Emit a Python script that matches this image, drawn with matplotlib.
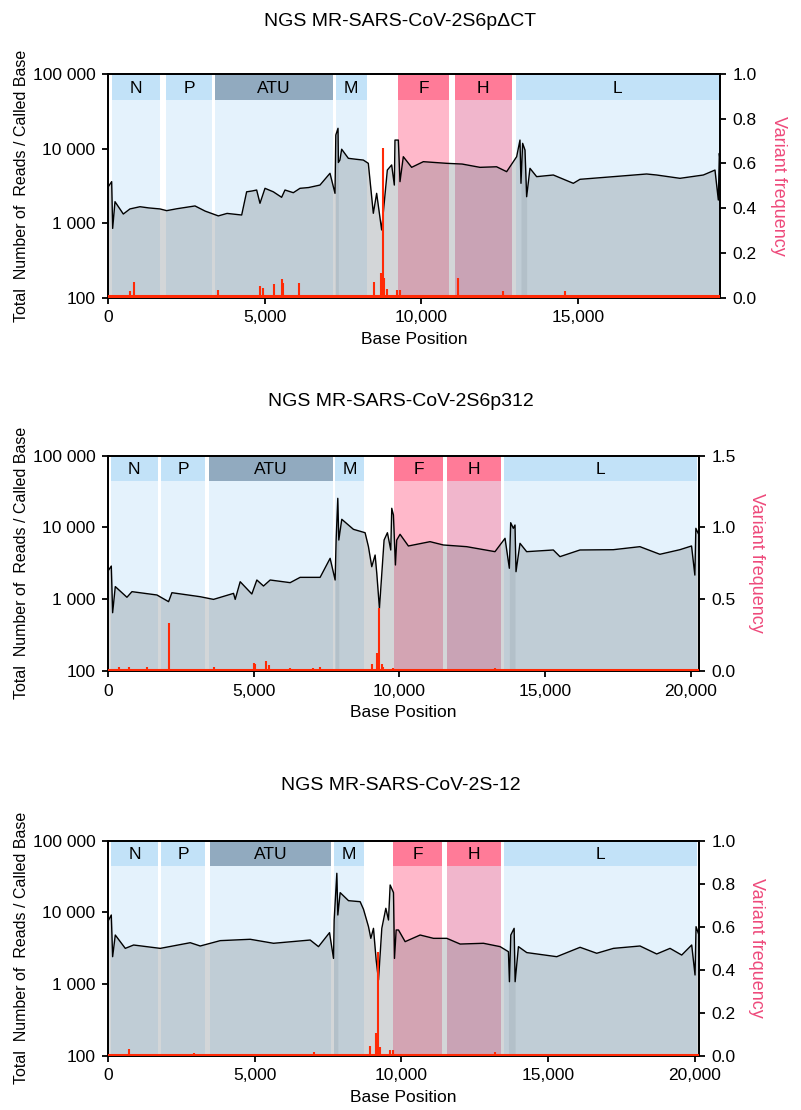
import numpy as np
import matplotlib
matplotlib.use("Agg")
import matplotlib.pyplot as plt
from matplotlib.ticker import FixedLocator, NullLocator

plt.rcParams['font.family'] = ['Liberation Sans', 'DejaVu Sans']

genes = ['N', 'P', 'ATU', 'M', 'F', 'H', 'L']

# ---- panel 1: S6p delta CT
title1 = 'NGS MR-SARS-CoV-2S6pΔCT'
gene_start1 = [118, 1851, 3414, 7265, 9263, 11072, 13018]
gene_end1 = [1659, 3329, 7170, 8254, 10890, 12880, 19496]
cov_pos1 = [10, 117, 149, 223, 489, 700, 1021, 1300, 1659, 1872, 2200, 2777, 3100,
            3521, 3800, 4266, 4424, 4600, 4744, 4850, 5010, 5276, 5541, 5648, 5914,
            6127, 6400, 6765, 7084, 7244, 7270, 7340, 7352, 7400, 7457, 7670, 7900,
            8148, 8307, 8467, 8573, 8733, 8914, 9052, 9137, 9158, 9265, 9318, 9424,
            9690, 10063, 10807, 11300, 11871, 12400, 12722, 13041, 13147, 13179,
            13232, 13307, 13360, 13466, 13679, 14211, 14849, 15062, 16126, 17189,
            17508, 18253, 18998, 19370, 19477, 19509, 19530]
cov_val1 = [3080, 3600, 850, 1940, 1325, 1550, 1660, 1600, 1550, 1470, 1560, 1700, 1450,
            1250, 1350, 1285, 2630, 2700, 2780, 1845, 2930, 2630, 2220, 2780, 2560,
            2930, 3000, 3240, 4660, 2510, 15200, 18700, 6500, 7000, 9800, 7400, 7200,
            7010, 6340, 1355, 2510, 810, 5150, 6030, 3240, 13000, 13000, 3600, 7780,
            5600, 6670, 6340, 6200, 5600, 5700, 4900, 7780, 13000, 3420,
            11750, 9550, 2260, 5430, 4200, 4420, 3420, 3870, 4200, 4560,
            4420, 3990, 4420, 5150, 2040, 8630, 7010]
var_pos1 = [702, 840, 3521, 4850, 4957, 5297, 5541, 5595, 6095, 8488, 8712, 8765,
            8818, 8893, 9212, 9318, 11180, 12616, 14584]
var_freq1 = [0.030, 0.072, 0.034, 0.052, 0.042, 0.061, 0.084, 0.065, 0.065, 0.072,
             0.109, 0.668, 0.087, 0.040, 0.035, 0.035, 0.090, 0.030, 0.030]
overlap1 = [(7240, 7360), (13170, 13370)]

# ---- panel 2: S6p312
title2 = 'NGS MR-SARS-CoV-2S6p312'
gene_start2 = [102, 1816, 3451, 7794, 9817, 11646, 13600]
gene_end2 = [1702, 3336, 7714, 8789, 11486, 13486, 20218]
cov_pos2 = [22, 113, 159, 250, 650, 822, 1679, 2079, 2193, 3165, 3621, 4308, 4365,
            4536, 4936, 5108, 5336, 5565, 6251, 6593, 7279, 7622, 7794, 7828, 7885,
            7920, 8022, 8422, 8822, 8937, 9051, 9166, 9223, 9314, 9474, 9588, 9703,
            9737, 9794, 9863, 9908, 10022, 10308, 11051, 11508, 12308, 13280, 13624,
            13772, 13818, 13909, 13966, 14001, 14138, 14366, 15281, 15509, 16195,
            17338, 18252, 18938, 19624, 20024, 20138, 20172, 20252]
cov_val2 = [2550, 2900, 649, 1500, 1065, 1275, 1146, 925, 1233, 1084, 995, 1207, 995,
            1754, 1183, 1853, 1528, 1853, 1702, 2018, 2018, 3715, 1853, 6680, 25470,
            6680, 13000, 9420, 8450, 5400, 2840, 4130, 2300, 747, 6680, 8450, 4855,
            18500, 14930, 3000, 6680, 8030, 5520, 6340, 5700, 5400, 4600, 7060,
            2700, 11650, 9730, 10820, 2420, 6010, 4600, 4855, 3920, 4855,
            4900, 5400, 4230, 4900, 5520, 2170, 9730, 8280]
var_pos2 = [365, 708, 1336, 2079, 3621, 4994, 5050, 5417, 5508, 6251, 7051, 7279,
            9051, 9246, 9314, 9394, 9451, 9794, 13280]
var_freq2 = [0.030, 0.025, 0.030, 0.332, 0.030, 0.053, 0.050, 0.070, 0.040, 0.020,
             0.020, 0.025, 0.046, 0.123, 0.437, 0.050, 0.030, 0.020, 0.020]
overlap2 = [(7790, 7930), (13770, 13970)]

# ---- panel 3: S-12
title3 = 'NGS MR-SARS-CoV-2S-12'
gene_start3 = [112, 1815, 3484, 7685, 9729, 11545, 13497]
gene_end3 = [1690, 3314, 7594, 8707, 11375, 13385, 20082]
cov_pos3 = [22, 112, 158, 248, 589, 873, 1781, 2803, 3143, 3825, 4847, 5641, 6890,
            7174, 7549, 7685, 7707, 7798, 7832, 7912, 8196, 8593, 8707, 8877, 8957,
            9047, 9138, 9218, 9331, 9468, 9559, 9615, 9729, 9763, 9820, 9899, 10126,
            10637, 11092, 11546, 12000, 12795, 13363, 13646, 13680, 13726, 13840,
            13874, 13987, 14271, 15293, 16088, 16655, 17223, 18131, 18699, 19153,
            19551, 19891, 20005, 20039, 20118]
cov_val3 = [7850, 9220, 2420, 4850, 3160, 3520, 3160, 3790, 3410, 4050, 4230, 3720, 4130,
            3340, 5230, 2290, 7850, 35150, 9220, 18890, 14600, 14130, 11070, 6340, 4360,
            6010, 2180, 1146, 6010, 11430, 7850, 24150, 18890, 2290, 5700, 5700, 3920,
            4850, 4360, 4360, 3630, 3720, 3340, 2840, 1085, 4850, 6010,
            1085, 3340, 2760, 2420, 3270, 2700, 3160, 3410, 2640, 3160,
            2550, 3520, 1345, 6340, 5120]
var_pos3 = [703, 2917, 7004, 8934, 9138, 9218, 9275, 9615, 9729, 13193]
var_freq3 = [0.031, 0.016, 0.017, 0.046, 0.105, 0.484, 0.043, 0.028, 0.028, 0.020]
overlap3 = [(7680, 7840), (13640, 13880)]

var_base = 0.006

header_col = {'N': '#c2e2f8', 'P': '#c2e2f8', 'ATU': '#91aabf', 'M': '#c2e2f8',
              'F': '#ff7b98', 'H': '#ff7b98', 'L': '#c2e2f8'}
body_col = {'N': '#e4f2fc', 'P': '#e4f2fc', 'ATU': '#e4f2fc', 'M': '#e4f2fc',
            'F': '#ffb8ca', 'H': '#f1b6cc', 'L': '#e4f2fc'}
red = '#ff2a06'
pink = '#ee4a7b'
W, H = 801, 1110


def panel(fig, box, title, xmax, starts, ends, cpos, cval, overlaps, vpos, vfreq,
          vmax, vstep, xticks, title_y):
    l, t, r, b = box
    ax = fig.add_axes([l / W, 1 - b / H, (r - l) / W, (b - t) / H])
    ax.set_yscale('log')
    ax.set_ylim(100, 100000)
    ax.set_xlim(0, xmax)
    hb = 0.882
    trans = ax.get_xaxis_transform()
    for g, s, e in zip(genes, starts, ends):
        ax.axvspan(s, e, ymin=0, ymax=hb, color=body_col[g], lw=0, zorder=0)
        ax.axvspan(s, e, ymin=hb, ymax=1, color=header_col[g], lw=0, zorder=0)
        ax.text((s + e) / 2, (1 + hb) / 2 - 0.005, g, transform=trans, ha='center',
                va='center', fontsize=12.5, zorder=5)
    ax.fill_between(cpos, 100, cval, color='#6f7880', alpha=0.3, lw=0, zorder=2)
    # darker strips where the coverage trace folds back on itself
    x = np.array(cpos)
    for s, e in overlaps:
        ax.fill_between(cpos, 100, cval, where=(x >= s) & (x <= e), color='#6f7880',
                        alpha=0.15, lw=0, zorder=2)
    ax.plot(cpos, cval, color='black', lw=1.0, zorder=3)
    ax.yaxis.set_major_locator(FixedLocator([100, 1000, 10000, 100000]))
    ax.yaxis.set_minor_locator(NullLocator())
    ax.set_yticklabels(['100', '1 000', '10 000', '100 000'], fontsize=12.5)
    ax.set_xticks(xticks)
    ax.set_xticklabels(['{:,}'.format(v) for v in xticks], fontsize=12.5)
    ax.set_xlabel('Base Position', fontsize=12.5, labelpad=5)

    ax2 = ax.twinx()
    ax2.set_ylim(0, vmax)
    ax2.vlines(vpos, 0, vfreq, color=red, lw=1.5, zorder=4)
    ax2.plot([0, xmax], [var_base, var_base], color=red, lw=2.2, zorder=4)
    nt = int(round(vmax / vstep))
    yt = [i * vstep for i in range(nt + 1)]
    ax2.set_yticks(yt)
    ax2.set_yticklabels(['%.1f' % v for v in yt], fontsize=12.5)

    for a in (ax, ax2):
        for sp in a.spines.values():
            sp.set_linewidth(1.3)
        a.tick_params(width=1.3, length=4, direction='out', pad=5)

    fig.text(0.5, 1 - title_y / H, title, ha='center', va='center', fontsize=14)
    fig.text(22 / W, 1 - (t + b) / 2 / H, 'Total  Number of  Reads / Called Base',
             rotation=90, ha='center', va='center', fontsize=11.5)
    fig.text((r + 58) / W, 1 - (t + b) / 2 / H, 'Variant frequency', rotation=270,
             ha='center', va='center', fontsize=13, color=pink)
    return ax


fig = plt.figure(figsize=(W / 100, H / 100), dpi=100)
panel(fig, (108, 74, 720, 297.7), title1, 19530, gene_start1, gene_end1,
      cov_pos1, cov_val1, overlap1, var_pos1, var_freq1, 1.0, 0.2,
      [0, 5000, 10000, 15000], 21)
panel(fig, (108, 455.7, 699, 671), title2, 20280, gene_start2, gene_end2,
      cov_pos2, cov_val2, overlap2, var_pos2, var_freq2, 1.5, 0.5,
      [0, 5000, 10000, 15000, 20000], 401)
panel(fig, (108, 840.7, 699, 1056), title3, 20140, gene_start3, gene_end3,
      cov_pos3, cov_val3, overlap3, var_pos3, var_freq3, 1.0, 0.2,
      [0, 5000, 10000, 15000, 20000], 786)

fig.savefig('out.png', dpi=100)
